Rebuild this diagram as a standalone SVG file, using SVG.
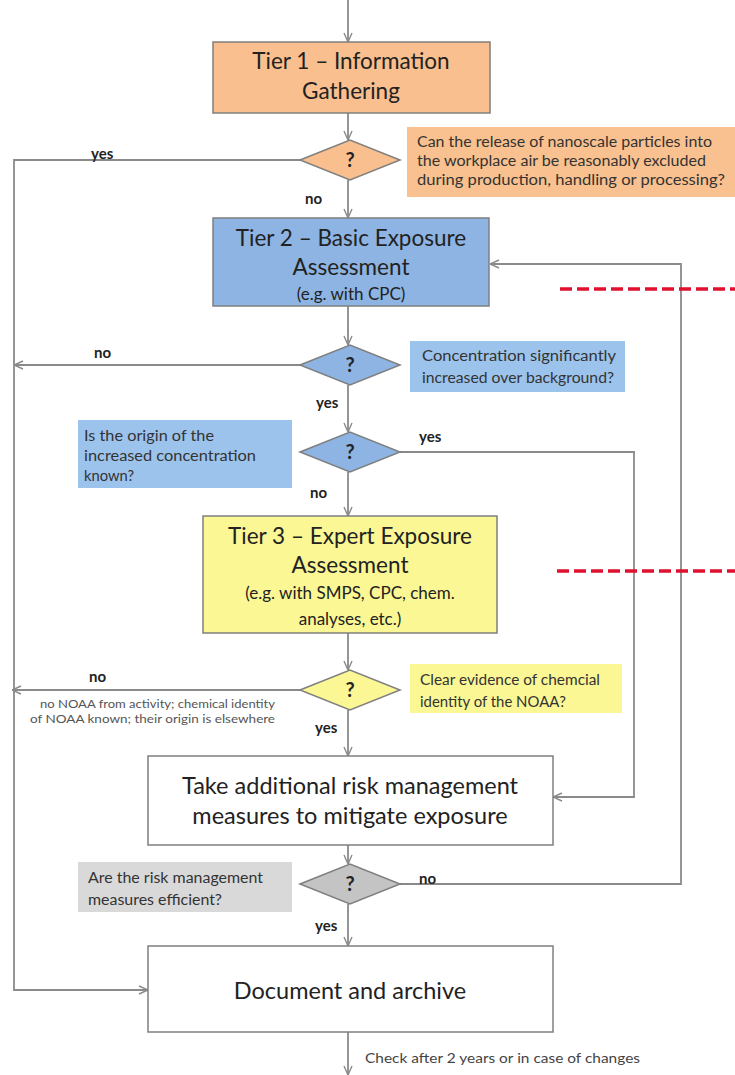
<svg xmlns="http://www.w3.org/2000/svg" width="735" height="1075" viewBox="0 0 735 1075">
<defs>
<marker id="ah" viewBox="0 0 10 10" refX="10" refY="5" markerWidth="10" markerHeight="10" markerUnits="userSpaceOnUse" orient="auto">
<path d="M1,1 L10,5 L1,9" fill="none" stroke="#8a8a8a" stroke-width="1.4"/>
</marker>
<style>
.box{stroke:#7f7f7f;stroke-width:1.5}
.ln{fill:none;stroke:#8a8a8a;stroke-width:1.8}
.t{font-family:Lato,"Open Sans",sans-serif;fill:#222;text-anchor:middle}
.big{font-size:22.5px}
.big2{font-size:23.5px}
.sub{font-size:17px}
.call{font-family:Lato,"Open Sans",sans-serif;font-size:14.5px;fill:#333}
.small{font-family:Lato,"Open Sans",sans-serif;font-size:12px;fill:#555}
.lbl{font-family:Lato,"Open Sans",sans-serif;font-size:15px;font-weight:bold;fill:#222}
.q{font-family:Lato,"Open Sans",sans-serif;font-size:20px;font-weight:bold;fill:#222;text-anchor:middle}
.red{stroke:#e0102f;stroke-width:3.5;stroke-dasharray:12,5;fill:none}
</style>
</defs>
<g id="connectors">
<path class="ln" d="M348,0 V42" marker-end="url(#ah)"/>
<path class="ln" d="M348,113 V140" marker-end="url(#ah)"/>
<path class="ln" d="M348,180 V218" marker-end="url(#ah)"/>
<path class="ln" d="M300,160 H14 V990 H148" marker-end="url(#ah)"/>
<path class="ln" d="M348,306 V345" marker-end="url(#ah)"/>
<path class="ln" d="M300,365 H14" marker-end="url(#ah)"/>
<path class="ln" d="M348,385 V432" marker-end="url(#ah)"/>
<path class="ln" d="M400,452 H634 V797 H553" marker-end="url(#ah)"/>
<path class="ln" d="M348,472 V516" marker-end="url(#ah)"/>
<path class="ln" d="M348,633 V670" marker-end="url(#ah)"/>
<path class="ln" d="M300,690 H12" marker-end="url(#ah)"/>
<path class="ln" d="M348,710 V756" marker-end="url(#ah)"/>
<path class="ln" d="M348,845 V864" marker-end="url(#ah)"/>
<path class="ln" d="M400,884 H681 V264 H490" marker-end="url(#ah)"/>
<path class="ln" d="M348,904 V946" marker-end="url(#ah)"/>
<path class="ln" d="M348,1032 V1075" marker-end="url(#ah)"/>
<text class="lbl" x="91" y="159">yes</text>
<text class="lbl" x="305" y="204">no</text>
<text class="lbl" x="94" y="358">no</text>
<text class="lbl" x="316" y="408">yes</text>
<text class="lbl" x="419" y="442">yes</text>
<text class="lbl" x="310" y="498">no</text>
<text class="lbl" x="89" y="682">no</text>
<text class="small" x="40" y="708" textLength="235" lengthAdjust="spacingAndGlyphs">no  NOAA from activity; chemical identity</text>
<text class="small" x="30" y="723" textLength="245" lengthAdjust="spacingAndGlyphs">of NOAA known; their origin is elsewhere</text>
<text class="lbl" x="315" y="733">yes</text>
<text class="lbl" x="419" y="884">no</text>
<text class="lbl" x="315" y="931">yes</text>
<text x="365" y="1063" style="font-family:Lato,'Open Sans',sans-serif;font-size:14px;fill:#444" textLength="275" lengthAdjust="spacingAndGlyphs">Check after 2 years or in case of changes</text>
</g>
<g id="redlines">
<path class="red" d="M560,289 H735"/>
<path class="red" d="M557,571 H735"/>
</g>
<g id="tier1">
<rect class="box" x="213" y="42" width="277" height="71" fill="#f9bf8f"/>
<text class="t big" x="351" y="69">Tier 1 – Information</text>
<text class="t big" x="351" y="99">Gathering</text>
</g>
<g id="q1">
<polygon class="box" points="300,160 350,140 400,160 350,180" fill="#f9bf8f"/>
<text class="q" x="350" y="167">?</text>
</g>
<g id="c1">
<rect x="407" y="127" width="328" height="70" fill="#f9c18f"/>
<text class="call" x="417" y="147" textLength="295" lengthAdjust="spacingAndGlyphs">Can the release of nanoscale particles into</text>
<text class="call" x="417" y="166" textLength="289" lengthAdjust="spacingAndGlyphs">the workplace air be reasonably excluded</text>
<text class="call" x="417" y="185" textLength="308" lengthAdjust="spacingAndGlyphs">during production, handling or processing?</text>
</g>
<g id="tier2">
<rect class="box" x="213" y="218" width="276" height="88" fill="#8db4e2"/>
<text class="t big" x="351" y="246">Tier 2 – Basic Exposure</text>
<text class="t big" x="351" y="275">Assessment</text>
<text class="t sub" x="351" y="300">(e.g. with CPC)</text>
</g>
<g id="q2">
<polygon class="box" points="300,365 350,345 400,365 350,385" fill="#8db4e2"/>
<text class="q" x="350" y="372">?</text>
</g>
<g id="c2">
<rect x="410" y="341" width="215" height="51" fill="#9cc3ec"/>
<text class="call" x="422" y="361" textLength="194" lengthAdjust="spacingAndGlyphs">Concentration significantly</text>
<text class="call" x="422" y="383" textLength="192" lengthAdjust="spacingAndGlyphs">increased over background?</text>
</g>
<g id="q3">
<polygon class="box" points="300,452 350,432 400,452 350,472" fill="#8db4e2"/>
<text class="q" x="350" y="459">?</text>
</g>
<g id="c3">
<rect x="78" y="420" width="214" height="68" fill="#9cc3ec"/>
<text class="call" x="84" y="441" textLength="130" lengthAdjust="spacingAndGlyphs">Is the origin of the</text>
<text class="call" x="84" y="461" textLength="172" lengthAdjust="spacingAndGlyphs">increased concentration</text>
<text class="call" x="84" y="481" textLength="50" lengthAdjust="spacingAndGlyphs">known?</text>
</g>
<g id="tier3">
<rect class="box" x="203" y="516" width="294" height="117" fill="#fbf794"/>
<text class="t big" x="350" y="544">Tier 3 – Expert Exposure</text>
<text class="t big" x="350" y="573">Assessment</text>
<text class="t sub" x="350" y="599">(e.g. with SMPS, CPC, chem.</text>
<text class="t sub" x="350" y="625">analyses, etc.)</text>
</g>
<g id="q4">
<polygon class="box" points="300,690 350,670 400,690 350,710" fill="#fbf794"/>
<text class="q" x="350" y="697">?</text>
</g>
<g id="c4">
<rect x="410" y="664" width="212" height="49" fill="#fbf794"/>
<text class="call" x="420" y="685" textLength="180" lengthAdjust="spacingAndGlyphs">Clear evidence of chemcial</text>
<text class="call" x="420" y="707" textLength="146" lengthAdjust="spacingAndGlyphs">identity of the NOAA?</text>
</g>
<g id="action">
<rect class="box" x="148" y="756" width="405" height="89" fill="#ffffff"/>
<text class="t big2" x="350" y="794">Take additional risk management</text>
<text class="t big2" x="350" y="824">measures to mitigate exposure</text>
</g>
<g id="q5">
<polygon class="box" points="300,884 350,864 400,884 350,904" fill="#c4c4c4"/>
<text class="q" x="350" y="891">?</text>
</g>
<g id="c5">
<rect x="78" y="862" width="214" height="50" fill="#d9d9d9"/>
<text class="call" x="88" y="883" textLength="175" lengthAdjust="spacingAndGlyphs">Are the risk management</text>
<text class="call" x="88" y="905" textLength="134" lengthAdjust="spacingAndGlyphs">measures efficient?</text>
</g>
<g id="doc">
<rect class="box" x="148" y="946" width="405" height="86" fill="#ffffff"/>
<text class="t big2" x="350" y="999">Document and archive</text>
</g>
</svg>
